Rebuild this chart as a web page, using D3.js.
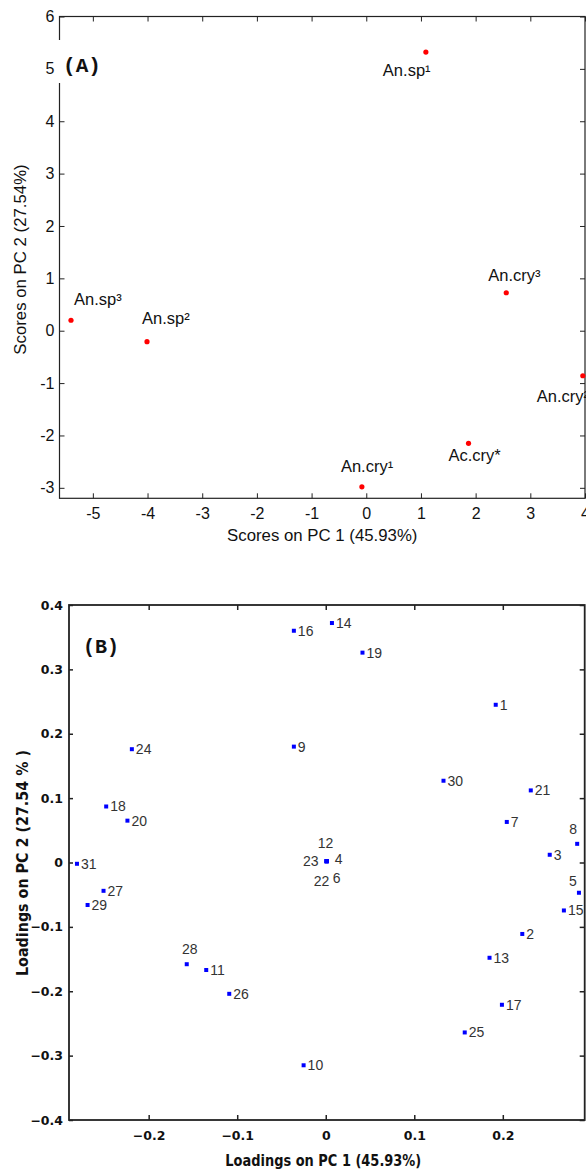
<!DOCTYPE html>
<html><head><meta charset="utf-8">
<script src="https://cdn.jsdelivr.net/npm/d3@7/dist/d3.min.js"></script>
<style>body{margin:0;background:#fff} svg{display:block}</style>
</head><body><svg id="c" width="586" height="1173"></svg>
<script>
// ---------- Panel A: scores ----------
const scoreLabels = ["An.sp\u00B9","An.sp\u00B2","An.sp\u00B3","An.cry\u00B9","An.cry\u00B2","An.cry\u00B3","Ac.cry*"];
const scorePC1 = [1.09, -4.01, -5.40, -0.08, 3.96, 2.56, 1.87];
const scorePC2 = [5.32, -0.21, 0.20, -2.98, -0.86, 0.725, -2.15];
const scoreTicksX = [-5,-4,-3,-2,-1,0,1,2,3,4];
const scoreTicksY = [-3,-2,-1,0,1,2,3,4,5,6];
// label placement (pixel offsets from the point, text start)
const scoreLabelDx = [-43, -5, 3, -21, -46, -18, -20];
const scoreLabelDy = [24, -18, -15, -15, 26, -12, 18];

// ---------- Panel B: loadings ----------
const loadingIds = ["1","2","3","4","5","6","7","8","9","10","11","12","13","14","15","16",
  "17","18","19","20","21","22","23","24","25","26","27","28","29","30","31"];
const loadingPC1 = [0.192, 0.222, 0.253, 0.001, 0.286, 0.001, 0.2045, 0.284, -0.036, -0.025,
  -0.135, 0.001, 0.185, 0.007, 0.269, -0.036, 0.199, -0.248, 0.0415, -0.224, 0.2316, 0.001,
  0.001, -0.219, 0.157, -0.109, -0.251, -0.157, -0.269, 0.133, -0.281];
const loadingPC2 = [0.245, -0.111, 0.012, 0.002, -0.047, 0.002, 0.063, 0.029, 0.180, -0.315,
  -0.167, 0.002, -0.148, 0.372, -0.0745, 0.360, -0.221, 0.087, 0.326, 0.065, 0.112, 0.002,
  0.002, 0.176, -0.264, -0.204, -0.044, -0.158, -0.066, 0.127, -0.002];
const loadingTicksX = [-0.2, -0.1, 0, 0.1, 0.2];
const loadingTicksY = [-0.4, -0.3, -0.2, -0.1, 0, 0.1, 0.2, 0.3, 0.4];
// special label placements: [dx, dy, anchor]
const loadingLabelPlace = {"12":[-1,-13,"middle"], "23":[-8,5,"end"], "4":[8,3,"start"],
  "22":[-5,25,"middle"], "6":[6,22,"start"], "8":[-4,-10,"middle"], "5":[-6,-7,"middle"],
  "28":[3,-10,"middle"]};

const svg = d3.select("#c");

// ===== Panel A =====
const xA = d3.scaleLinear().domain([-5.61, 4.0]).range([59.5, 585]);
const yA = d3.scaleLinear().domain([-3.2, 6]).range([498.3, 16.5]);
const gA = svg.append("g");
const fontA = "Liberation Sans, Arial, sans-serif";

function styleAxis(sel, ff, fs, fw) {
  sel.select(".domain").remove();
  sel.selectAll(".tick line").attr("stroke", "#222");
  sel.selectAll("text").attr("fill", "#111").attr("font-family", ff)
     .attr("font-size", fs).attr("font-weight", fw || "normal");
  sel.attr("font-family", null).attr("font-size", null);
}

gA.append("g").attr("transform", `translate(0,${yA.range()[0]})`)
  .call(d3.axisBottom(xA).tickValues(scoreTicksX).tickSize(-5).tickPadding(9)
        .tickFormat(d => d < 0 ? "-" + Math.abs(d) : String(d)))
  .call(s => styleAxis(s, fontA, 16));
gA.append("g").attr("transform", `translate(0,${yA.range()[1]})`)
  .call(d3.axisTop(xA).tickValues(scoreTicksX).tickSize(-5).tickFormat(""))
  .call(s => styleAxis(s, fontA, 16));
gA.append("g").attr("transform", `translate(${xA.range()[0]},0)`)
  .call(d3.axisLeft(yA).tickValues(scoreTicksY).tickSize(-5).tickPadding(5)
        .tickFormat(d => d < 0 ? "-" + Math.abs(d) : String(d)))
  .call(s => styleAxis(s, fontA, 16));
gA.append("g").attr("transform", `translate(${xA.range()[1]},0)`)
  .call(d3.axisRight(yA).tickValues(scoreTicksY).tickSize(-5).tickFormat(""))
  .call(s => styleAxis(s, fontA, 16));
gA.append("rect").attr("x", xA.range()[0]).attr("y", yA.range()[1])
  .attr("width", xA.range()[1] - xA.range()[0]).attr("height", yA.range()[0] - yA.range()[1])
  .attr("fill", "none").attr("stroke", "#222").attr("stroke-width", 1.2);

// panel label (A) on white box
gA.append("rect").attr("x", 57).attr("y", 40).attr("width", 50).attr("height", 43).attr("fill", "#fff");
gA.append("text").attr("x", 82).attr("y", 72).attr("text-anchor", "middle")
  .attr("font-family", "Liberation Mono, Courier New, monospace").attr("font-weight", "bold")
  .attr("font-size", 21).attr("fill", "#111").text("(A)");

const scoreIdx = d3.range(scoreLabels.length);
gA.selectAll("circle.pt").data(scoreIdx).join("circle").attr("class", "pt")
  .attr("cx", i => xA(scorePC1[i])).attr("cy", i => yA(scorePC2[i])).attr("r", 2.6).attr("fill", "#ff0000");
gA.selectAll("text.lbl").data(scoreIdx).join("text").attr("class", "lbl")
  .attr("x", i => xA(scorePC1[i]) + scoreLabelDx[i]).attr("y", i => yA(scorePC2[i]) + scoreLabelDy[i])
  .attr("font-family", fontA).attr("font-size", 16.5).attr("fill", "#111").text(i => scoreLabels[i]);

gA.append("text").attr("x", (xA.range()[0] + xA.range()[1]) / 2).attr("y", 541)
  .attr("text-anchor", "middle").attr("font-family", fontA).attr("font-size", 16.8).attr("fill", "#111")
  .text("Scores on PC 1 (45.93%)");
gA.append("text").attr("transform", "translate(26,259.5) rotate(-90)")
  .attr("text-anchor", "middle").attr("font-family", fontA).attr("font-size", 16.8).attr("fill", "#111")
  .text("Scores on PC 2 (27.54%)");

// ===== Panel B =====
const xB = d3.scaleLinear().domain([-0.29, 0.2925]).range([69, 584.7]);
const yB = d3.scaleLinear().domain([-0.4, 0.4]).range([1120, 605]);
const gB = svg.append("g");
const fontBT = "DejaVu Sans, Verdana, sans-serif";
const fontBL = "Liberation Sans, Arial, sans-serif";
const fmtB = d => d === 0 ? "0" : (d < 0 ? "\u2212" : "") + Math.abs(d).toFixed(1);

gB.append("g").attr("transform", `translate(0,${yB.range()[0]})`)
  .call(d3.axisBottom(xB).tickValues(loadingTicksX).tickSize(-5).tickPadding(11).tickFormat(fmtB))
  .call(s => styleAxis(s, fontBT, 12.5, "bold"));
gB.append("g").attr("transform", `translate(0,${yB.range()[1]})`)
  .call(d3.axisTop(xB).tickValues(loadingTicksX).tickSize(-5).tickFormat(""))
  .call(s => styleAxis(s, fontBT, 12.5));
gB.append("g").attr("transform", `translate(${xB.range()[0]},0)`)
  .call(d3.axisLeft(yB).tickValues(loadingTicksY).tickSize(-4).tickPadding(6).tickFormat(fmtB))
  .call(s => styleAxis(s, fontBT, 12.5, "bold"));
gB.append("g").attr("transform", `translate(${xB.range()[1]},0)`)
  .call(d3.axisRight(yB).tickValues(loadingTicksY).tickSize(-5).tickFormat(""))
  .call(s => styleAxis(s, fontBT, 12.5));
gB.selectAll(".tick line").attr("stroke-width", 1.5);
gB.append("rect").attr("x", xB.range()[0]).attr("y", yB.range()[1])
  .attr("width", xB.range()[1] - xB.range()[0]).attr("height", yB.range()[0] - yB.range()[1])
  .attr("fill", "none").attr("stroke", "#222").attr("stroke-width", 1.8);

gB.append("text").attr("x", 101).attr("y", 653).attr("text-anchor", "middle")
  .attr("font-family", "Liberation Mono, Courier New, monospace").attr("font-weight", "bold")
  .attr("font-size", 20).attr("fill", "#111").text("(B)");

const loadIdx = d3.range(loadingIds.length);
gB.selectAll("rect.pt").data(loadIdx).join("rect").attr("class", "pt")
  .attr("x", i => xB(loadingPC1[i]) - 2).attr("y", i => yB(loadingPC2[i]) - 2)
  .attr("width", 4).attr("height", 4).attr("fill", "#0000ff");
gB.selectAll("text.lbl").data(loadIdx).join("text").attr("class", "lbl")
  .each(function(i) {
    const p = loadingLabelPlace[loadingIds[i]] || [4, 5, "start"];
    d3.select(this).attr("x", xB(loadingPC1[i]) + p[0]).attr("y", yB(loadingPC2[i]) + p[1])
      .attr("text-anchor", p[2]);
  })
  .attr("font-family", fontBL).attr("font-size", 14).attr("fill", "#333").text(i => loadingIds[i]);

gB.append("text").attr("x", 323.3).attr("y", 1166).attr("text-anchor", "middle")
  .attr("font-family", fontBT).attr("font-weight", "bold").attr("font-size", 15).attr("fill", "#111")
  .attr("textLength", 196).attr("lengthAdjust", "spacingAndGlyphs")
  .text("Loadings on PC 1 (45.93%)");
gB.append("text").attr("transform", "translate(28,863) rotate(-90)").attr("text-anchor", "middle")
  .attr("font-family", fontBT).attr("font-weight", "bold").attr("font-size", 15).attr("fill", "#111")
  .attr("textLength", 226).attr("lengthAdjust", "spacingAndGlyphs")
  .text("Loadings on PC 2 (27.54 % )");
</script>
</body></html>
